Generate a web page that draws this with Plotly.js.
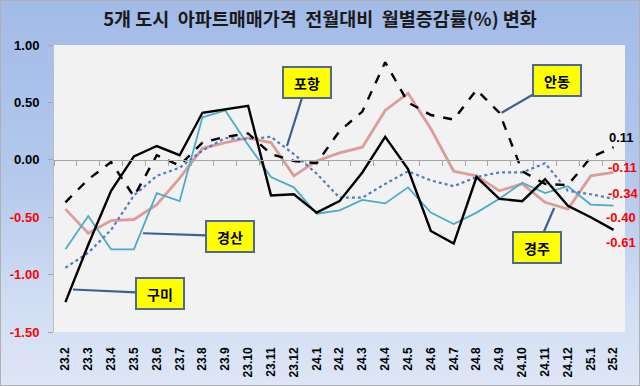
<!DOCTYPE html>
<html>
<head>
<meta charset="utf-8">
<script src="https://cdn.plot.ly/plotly-3.0.1.min.js"></script>
<style>
html,body{margin:0;padding:0;}
#wrap{width:640px;height:386px;box-sizing:border-box;border:1px solid #B0B0B0;
background:linear-gradient(to bottom,#A2BBE7 0%,#B3C8EC 45%,#D2DEF3 80%,#DDE6F6 100%);}
#chart{width:638px;height:384px;}
</style>
</head>
<body>
<div id="wrap"><div id="chart"></div></div>
<script>
const months = ['23.2','23.3','23.4','23.5','23.6','23.7','23.8','23.9','23.10','23.11','23.12',
  '24.1','24.2','24.3','24.4','24.5','24.6','24.7','24.8','24.9','24.10','24.11','24.12','25.1','25.2'];
const gumi      = [-1.24,-0.74,-0.27,0.03,0.12,0.04,0.41,0.44,0.47,-0.31,-0.30,-0.46,-0.36,-0.11,0.20,-0.08,-0.62,-0.73,-0.15,-0.34,-0.36,-0.17,-0.40,-0.50,-0.61];
const andong    = [-0.37,-0.17,-0.02,-0.32,0.04,-0.05,0.15,0.20,0.23,0.05,-0.01,-0.03,0.25,0.42,0.85,0.50,0.39,0.35,0.61,0.41,-0.10,-0.21,-0.22,0.02,0.11];
const pohang    = [-0.94,-0.81,-0.61,-0.31,-0.14,-0.07,0.08,0.19,0.18,0.20,0.05,-0.12,-0.33,-0.33,-0.21,-0.10,-0.18,-0.23,-0.15,-0.11,-0.11,-0.03,-0.27,-0.30,-0.34];
const gyeongsan = [-0.78,-0.49,-0.78,-0.78,-0.29,-0.36,0.37,0.43,0.13,-0.15,-0.24,-0.47,-0.44,-0.35,-0.38,-0.24,-0.46,-0.56,-0.46,-0.34,-0.20,-0.29,-0.23,-0.39,-0.40];
const gyeongju  = [-0.43,-0.64,-0.53,-0.52,-0.39,-0.16,0.10,0.15,0.19,0.15,-0.14,-0.01,0.06,0.11,0.43,0.58,0.27,-0.10,-0.14,-0.27,-0.21,-0.37,-0.43,-0.14,-0.11];
const yTicks = [1.0,0.5,0.0,-0.5,-1.0,-1.5];
const titleText = '5개 도시  아파트매매가격  전월대비  월별증감률(%) 변화';

const F = '"Noto Sans CJK KR","Noto Sans",sans-serif';
const traces = [
  {name:'경주', y:gyeongju, line:{color:'#DC9C9A', width:2.8}},
  {name:'경산', y:gyeongsan, line:{color:'#4BACC6', width:1.8}},
  {name:'포항', y:pohang, line:{color:'#4F7CC0', width:2.2, dash:'dot'}},
  {name:'안동', y:andong, line:{color:'#000000', width:2.4, dash:'dash'}},
  {name:'구미', y:gumi, line:{color:'#000000', width:2.4}}
].map(t => Object.assign({x:months, type:'scatter', mode:'lines', hoverinfo:'none'}, t));

function fmt(v){ return v.toFixed(2); }
const ticktext = yTicks.map(v => v < 0 ? '<span style="color:#FF0000">'+fmt(v)+'</span>' : fmt(v));

const last = months.length - 1;
const endLabels = [
  {v:andong[last], c:'#000000', xs:-7, ys:10},
  {v:gyeongju[last], c:'#FF0000', xs:-8, ys:5},
  {v:pohang[last], c:'#FF0000', xs:-8, ys:5},
  {v:gyeongsan[last], c:'#FF0000', xs:-10, ys:-12},
  {v:gumi[last], c:'#FF0000', xs:-10, ys:-13}
].map(o => ({x:last, y:o.v, xref:'x', yref:'y', text:fmt(o.v), showarrow:false,
  xanchor:'left', yanchor:'middle', xshift:o.xs, yshift:o.ys,
  font:{family:'"Liberation Sans",Arial,sans-serif', size:13, color:o.c, weight:'bold'}}));

function callout(text, x, y, ax, ay){
  return {x:x, y:y, xref:'x', yref:'y', text:'<b>'+text+'</b>', showarrow:true,
    arrowhead:0, arrowwidth:2.2, arrowcolor:'#3F5F93', ax:ax, ay:ay,
    bgcolor:'#FFFF00', bordercolor:'#506A8F', borderwidth:2, borderpad:3,
    width:40, height:23, font:{family:F, size:14, color:'#000000'}};
}
const callouts = [
  callout('포항', 9.7, 0.12, 20, -64),
  callout('안동', 19.1, 0.41, 55, -32),
  callout('경산', 3.4, -0.64, 87, 3),
  callout('구미', 0.33, -1.13, 87, 4),
  callout('경주', 21.4, -0.42, -17, 39)
];

const layout = {
  width:638, height:384,
  paper_bgcolor:'rgba(0,0,0,0)', plot_bgcolor:'#F2F2F2',
  margin:{l:53, r:14, t:44, b:53},
  showlegend:false,
  title:{text:'<b>'+titleText+'</b>', x:0.5, xanchor:'center', y:1-19/384, yref:'container', yanchor:'middle',
    font:{family:F, size:18.5, color:'#1A1A1A'}},
  xaxis:{type:'category', range:[-0.5,24.5], showgrid:false, zeroline:false, showline:false,
    tickangle:-90, ticks:'', ticklabelstandoff:12,
    tickfont:{family:'"Liberation Sans",Arial,sans-serif', size:12, color:'#000000', weight:'bold'}},
  xaxis2:{overlaying:'x', anchor:'free', position:0.6, type:'linear', range:[-0.5,24.5],
    tick0:-0.5, dtick:1, ticks:'outside', ticklen:5, tickcolor:'#A6A6A6', showticklabels:false,
    showline:true, linecolor:'#A6A6A6', linewidth:1, showgrid:false, zeroline:false},
  yaxis:{range:[-1.5,1.0], tickvals:yTicks, ticktext:ticktext, showgrid:false, zeroline:false,
    showline:true, linecolor:'#BFBFBF', ticks:'outside', ticklen:5, tickcolor:'#A6A6A6',
    ticklabelstandoff:6,
    tickfont:{family:'"Liberation Sans",Arial,sans-serif', size:13, color:'#000000', weight:'bold'}},
  annotations: endLabels.concat(callouts)
};
traces.push({x:[], y:[], xaxis:'x2', type:'scatter', mode:'lines', hoverinfo:'none', showlegend:false});
Plotly.newPlot('chart', traces, layout, {staticPlot:true, displayModeBar:false});
</script>
</body>
</html>
